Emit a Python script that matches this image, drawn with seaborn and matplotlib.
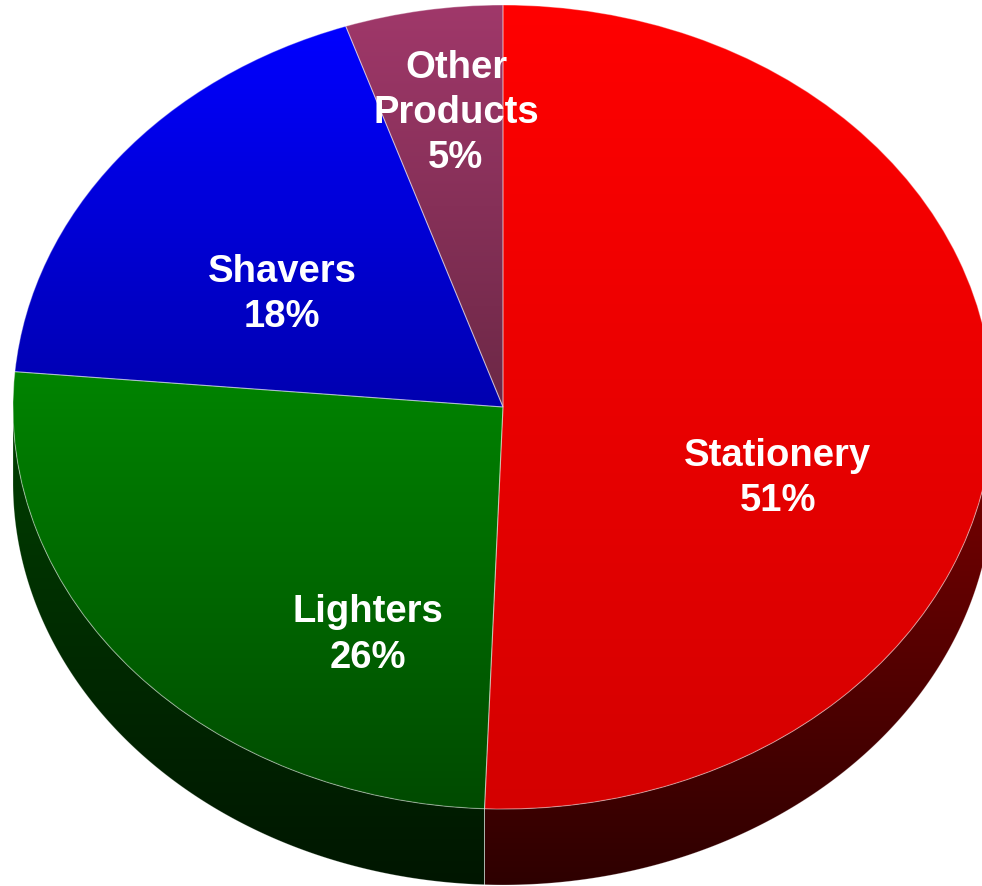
import numpy as np
import matplotlib
matplotlib.use('Agg')
import matplotlib.pyplot as plt
from matplotlib.colors import LinearSegmentedColormap
import seaborn as sns

# slice data (clockwise from 12 o'clock)
categories = ['Stationery', 'Lighters', 'Shavers', 'Other\nProducts']
shares = [50.6, 25.8, 18.4, 5.2]

# top face gradient (light at top, dark at bottom)
top_light = ['#ff0000', '#008400', '#0000ff', '#a0386a']
top_dark = ['#d40000', '#004a00', '#0000b0', '#6c2846']
# side wall gradient
side_light = ['#800000', '#004000', '#000070', '#4a1830']
side_dark = ['#2e0000', '#001600', '#000030', '#200818']

# label centres in pie units
label_xy = [(0.561, -0.177), (-0.2755, -0.567), (-0.451, 0.279), (-0.096, 0.731)]

DEPTH = 0.189  # thickness of the pie, in y units

sns.set_style('white')
plt.rcParams['font.family'] = ['Liberation Sans', 'DejaVu Sans']

fig = plt.figure(figsize=(9.82, 8.86), dpi=100)
ax = fig.add_axes([0, 0, 1, 1])


def shade(patch, c_hi, c_lo, z):
    # vertical gradient clipped to the patch
    (x0, y0), (x1, y1) = patch.get_path().get_extents().get_points()
    cmap = LinearSegmentedColormap.from_list('g', [c_lo, c_hi])
    grad = np.linspace(0, 1, 256).reshape(-1, 1)
    im = ax.imshow(grad, cmap=cmap, extent=(x0, x1, y0, y1), origin='lower',
                   aspect='auto', interpolation='bilinear', zorder=z)
    im.set_clip_path(patch)


wedges, _ = ax.pie(shares, startangle=90, counterclock=False, radius=1,
                   center=(0, 0),
                   wedgeprops=dict(edgecolor=(1, 1, 1, 0.35), linewidth=0.8))

# side walls for the front half of the pie
for w, hi, lo in zip(wedges, side_light, side_dark):
    t1, t2 = w.theta1, w.theta2
    for k in (-360, 0, 360):
        a, b = max(t1, -180 + k), min(t2, k)
        if b > a:
            t = np.radians(np.linspace(a, b, 300))
            xs = np.concatenate([np.cos(t), np.cos(t[::-1])])
            ys = np.concatenate([np.sin(t), np.sin(t[::-1]) - DEPTH])
            side, = ax.fill(xs, ys, facecolor='none',
                            edgecolor=(1, 1, 1, 0.25), linewidth=0.6, zorder=2)
            shade(side, hi, lo, 1.5)

# top face
for w, hi, lo in zip(wedges, top_light, top_dark):
    w.set_facecolor('none')
    w.set_zorder(4)
    shade(w, hi, lo, 3)

for (x, y), cat, v in zip(label_xy, categories, shares):
    ax.text(x, y, f"{cat}\n{v:.0f}%", ha='center', va='center', color='white',
            fontsize=27.5, fontweight='bold', linespacing=1.33, zorder=6)

ax.set_aspect('auto')
ax.set_xlim(-503 / 490, (982 - 503) / 490)
ax.set_ylim(-(886 - 407) / 402, 407 / 402)
ax.axis('off')

fig.savefig('out.png', dpi=100)
